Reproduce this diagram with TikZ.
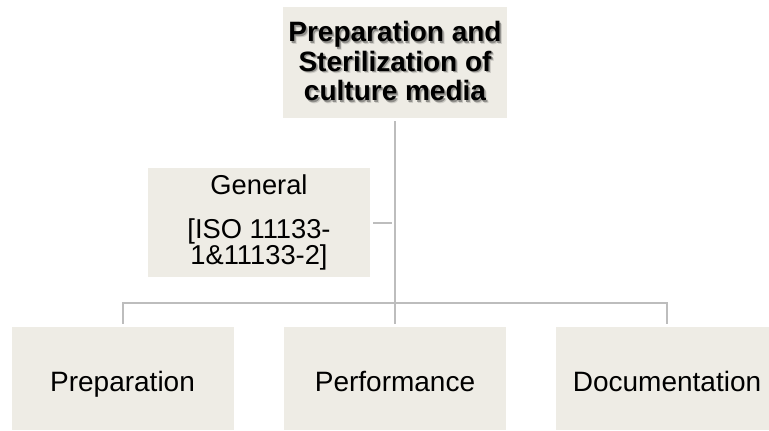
\documentclass[tikz,border=0pt]{standalone}
\usepackage{fontspec}
\setmainfont{Liberation Sans}
\definecolor{boxfill}{HTML}{EEECE5}
\definecolor{linkgray}{HTML}{BDBDBD}
\definecolor{shadowfar}{HTML}{CFCDC7}
\definecolor{shadownear}{HTML}{8F8E8A}
% one line of title text with a soft drop shadow behind it
\newcommand\shadowline[1]{\leavevmode
  \rlap{\kern2.4pt\raisebox{-2.6pt}{\textcolor{shadowfar}{#1}}}%
  \rlap{\kern1.5pt\raisebox{-1.7pt}{\textcolor{shadownear}{#1}}}#1}
\begin{document}
\begin{tikzpicture}[x=1pt,y=-1pt,
  card/.style={fill=boxfill,draw=none,inner sep=0pt,align=center,text=black},
  link/.style={draw=linkgray,line width=2pt,shorten <=3pt,shorten >=3pt},
  titlefont/.style={font=\fontsize{28}{29.5}\selectfont\bfseries}]
\clip (0,0) rectangle (769,431);
\useasboundingbox (0,0) rectangle (769,431);

% top level box with shadowed bold title
\node[card,titlefont,minimum width=224pt,minimum height=111pt] (top) at (395,62.5)
  {\shadowline{Preparation and}\\\shadowline{Sterilization of}\\\shadowline{culture media}};

% side box hanging off the trunk
\node[card,minimum width=222pt,minimum height=109pt,
  font=\fontsize{27.3}{22.5}\selectfont] (gen) at (259,222.5)
  {General\\[21pt][ISO 11133-\\1\&11133-2]};

% bottom row
\begin{scope}[every node/.style={card,minimum width=222pt,minimum height=103pt,
  text height=31pt,text depth=6pt,font=\fontsize{28}{30}\selectfont}]
  \node (p1) at (122.5,378.5) {Preparation};
  \node (p2) at (395,378.5) {Performance};
  \node (p3) at (667,378.5) {Documentation};
\end{scope}

\coordinate (bar) at (395,303);

% connectors
\draw[link] (top.south) -- (p2.north);
\draw[link] (gen.east) -- (gen.east -| top.south);
\draw[link] (p1.north) |- (bar) -| (p3.north);
\end{tikzpicture}
\end{document}
